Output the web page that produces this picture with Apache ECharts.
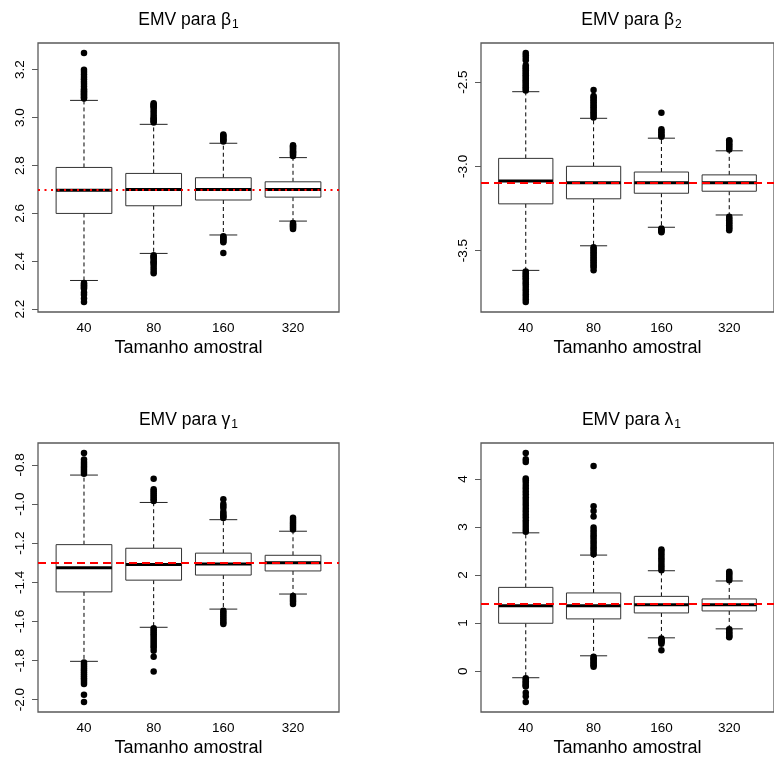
<!DOCTYPE html>
<html>
<head>
<meta charset="utf-8">
<script src="https://cdn.jsdelivr.net/npm/echarts@6/dist/echarts.min.js"></script>
<style>
  html, body { margin: 0; padding: 0; background: #ffffff; }
  #chart { width: 774px; height: 760px; }
</style>
</head>
<body>
<div id="chart"></div>
<script>
// Sample sizes on the horizontal axis of every panel
const sampleSizes = ['40', '80', '160', '320'];
const axisTitle = 'Tamanho amostral';

// Each box: [lower whisker, Q1, median, Q3, upper whisker] for n = 40, 80, 160, 320

// ---- beta_1 ----
const beta1Stats = [
  [2.320, 2.600, 2.697, 2.792, 3.072],
  [2.433, 2.632, 2.700, 2.767, 2.972],
  [2.510, 2.656, 2.700, 2.749, 2.893],
  [2.568, 2.668, 2.700, 2.732, 2.833]
];
const beta1OutHigh = [
  [3.08, 3.085, 3.09, 3.095, 3.10, 3.105, 3.11, 3.115, 3.12, 3.13, 3.14, 3.15, 3.16, 3.17, 3.18, 3.19, 3.20, 3.27],
  [2.98, 2.985, 2.99, 2.995, 3.00, 3.01, 3.02, 3.03, 3.04, 3.045, 3.05, 3.055, 3.06],
  [2.90, 2.905, 2.91, 2.915, 2.92, 2.925, 2.93],
  [2.84, 2.845, 2.85, 2.855, 2.86, 2.865, 2.87, 2.875, 2.88, 2.885]
];
const beta1OutLow = [
  [2.31, 2.305, 2.30, 2.295, 2.29, 2.285, 2.27, 2.26, 2.245, 2.23],
  [2.425, 2.42, 2.415, 2.41, 2.40, 2.395, 2.39, 2.38, 2.37, 2.36, 2.35],
  [2.505, 2.50, 2.495, 2.49, 2.485, 2.48, 2.435],
  [2.56, 2.555, 2.55, 2.545, 2.54, 2.535]
];
const beta1True = 2.7;
const beta1Ticks = [2.2, 2.4, 2.6, 2.8, 3.0, 3.2];

// ---- beta_2 ----
const beta2Stats = [
  [-3.618, -3.223, -3.087, -2.953, -2.557],
  [-3.472, -3.193, -3.097, -3.000, -2.715],
  [-3.362, -3.160, -3.097, -3.034, -2.833],
  [-3.289, -3.148, -3.097, -3.051, -2.908]
];
const beta2OutHigh = [
  [-2.55, -2.54, -2.53, -2.52, -2.51, -2.50, -2.49, -2.48, -2.47, -2.46, -2.45, -2.44, -2.43, -2.42, -2.41, -2.40, -2.37, -2.355, -2.34, -2.327],
  [-2.71, -2.70, -2.69, -2.68, -2.67, -2.66, -2.65, -2.64, -2.63, -2.62, -2.61, -2.60, -2.59, -2.583, -2.547],
  [-2.825, -2.82, -2.81, -2.80, -2.79, -2.78, -2.682],
  [-2.90, -2.89, -2.88, -2.87, -2.86, -2.85, -2.845]
];
const beta2OutLow = [
  [-3.625, -3.635, -3.645, -3.655, -3.665, -3.675, -3.69, -3.70, -3.715, -3.73, -3.745, -3.76, -3.775, -3.79, -3.806],
  [-3.48, -3.49, -3.50, -3.51, -3.52, -3.53, -3.54, -3.55, -3.56, -3.57, -3.58, -3.59, -3.60, -3.617],
  [-3.37, -3.375, -3.38, -3.385, -3.392],
  [-3.30, -3.31, -3.32, -3.33, -3.34, -3.35, -3.36, -3.37, -3.38]
];
const beta2True = -3.1;
const beta2Ticks = [-3.5, -3.0, -2.5];

// ---- gamma_1 ----
const gamma1Stats = [
  [-1.804, -1.449, -1.326, -1.2075, -0.852],
  [-1.630, -1.389, -1.309, -1.226, -0.992],
  [-1.537, -1.363, -1.306, -1.251, -1.080],
  [-1.460, -1.342, -1.300, -1.262, -1.139]
];
const gamma1OutHigh = [
  [-0.845, -0.835, -0.825, -0.815, -0.805, -0.795, -0.785, -0.772, -0.739],
  [-0.985, -0.975, -0.965, -0.955, -0.945, -0.935, -0.925, -0.871],
  [-1.072, -1.065, -1.058, -1.05, -1.04, -1.02, -1.01, -1.00, -0.975],
  [-1.13, -1.12, -1.11, -1.10, -1.09, -1.08, -1.07]
];
const gamma1OutLow = [
  [-1.81, -1.82, -1.83, -1.84, -1.85, -1.86, -1.87, -1.88, -1.89, -1.90, -1.91, -1.92, -1.975, -2.012],
  [-1.635, -1.645, -1.655, -1.665, -1.675, -1.685, -1.695, -1.705, -1.715, -1.725, -1.735, -1.75, -1.781, -1.856],
  [-1.545, -1.555, -1.565, -1.575, -1.585, -1.595, -1.605, -1.613],
  [-1.47, -1.48, -1.49, -1.50, -1.511]
];
const gamma1True = -1.3;
const gamma1Ticks = [-2.0, -1.8, -1.6, -1.4, -1.2, -1.0, -0.8];

// ---- lambda_1 ----
const lambda1Stats = [
  [-0.137, 0.996, 1.363, 1.743, 2.878],
  [0.319, 1.087, 1.363, 1.627, 2.415],
  [0.693, 1.211, 1.384, 1.556, 2.089],
  [0.880, 1.253, 1.384, 1.502, 1.876]
];
const lambda1OutHigh = [
  [2.90, 2.96, 3.02, 3.08, 3.14, 3.20, 3.26, 3.32, 3.38, 3.44, 3.50, 3.56, 3.62, 3.68, 3.74, 3.80, 3.86, 3.92, 3.97, 4.01, 4.35, 4.41, 4.54],
  [2.43, 2.48, 2.53, 2.58, 2.63, 2.68, 2.73, 2.78, 2.83, 2.88, 2.93, 2.99, 3.22, 3.33, 3.43, 4.27],
  [2.10, 2.15, 2.20, 2.25, 2.30, 2.35, 2.40, 2.45, 2.50, 2.53],
  [1.89, 1.93, 1.97, 2.01, 2.04, 2.07]
];
const lambda1OutLow = [
  [-0.15, -0.18, -0.21, -0.24, -0.27, -0.30, -0.32, -0.45, -0.52, -0.643],
  [0.30, 0.27, 0.24, 0.21, 0.18, 0.15, 0.12, 0.09],
  [0.68, 0.66, 0.64, 0.62, 0.60, 0.57, 0.436],
  [0.87, 0.84, 0.81, 0.78, 0.75, 0.72, 0.705]
];
const lambda1True = 1.4;
const lambda1Ticks = [0, 1, 2, 3, 4];

// Panel definitions (title symbol, data, reference-line style, plot rectangle)
const panels = [
  { sym: 'β', sub: '1', stats: beta1Stats, hi: beta1OutHigh, lo: beta1OutLow, truth: beta1True,
    ticks: beta1Ticks, dec: 1, refDash: [2, 4.5], rect: { left: 38, top: 43 } },
  { sym: 'β', sub: '2', stats: beta2Stats, hi: beta2OutHigh, lo: beta2OutLow, truth: beta2True,
    ticks: beta2Ticks, dec: 1, refDash: [8, 5], rect: { left: 481, top: 43 } },
  { sym: 'γ', sub: '1', stats: gamma1Stats, hi: gamma1OutHigh, lo: gamma1OutLow, truth: gamma1True,
    ticks: gamma1Ticks, dec: 1, refDash: [8, 5], rect: { left: 38, top: 443 } },
  { sym: 'λ', sub: '1', stats: lambda1Stats, hi: lambda1OutHigh, lo: lambda1OutLow, truth: lambda1True,
    ticks: lambda1Ticks, dec: 0, refDash: [8, 5], rect: { left: 481, top: 443 } }
];

const PLOT_W = 301, PLOT_H = 269;
const FONT = '"Liberation Sans", Arial, Helvetica, sans-serif';

// Box with dashed whiskers, short caps and a thick median bar
function renderBox(params, api) {
  const x = api.value(0);
  const lo = api.value(1), q1 = api.value(2), md = api.value(3), q3 = api.value(4), hi = api.value(5);
  const half = api.size([0.4, 0])[0];
  const capHalf = api.size([0.2, 0])[0];
  const cx = api.coord([x, md])[0];
  const yLo = api.coord([x, lo])[1];
  const yQ1 = api.coord([x, q1])[1];
  const yMd = api.coord([x, md])[1];
  const yQ3 = api.coord([x, q3])[1];
  const yHi = api.coord([x, hi])[1];
  const whisk = { stroke: '#000', lineWidth: 1, lineDash: [4, 3] };
  const cap = { stroke: '#222', lineWidth: 1 };
  return {
    type: 'group',
    children: [
      { type: 'line', shape: { x1: cx, y1: yQ3, x2: cx, y2: yHi }, style: whisk },
      { type: 'line', shape: { x1: cx, y1: yQ1, x2: cx, y2: yLo }, style: whisk },
      { type: 'line', shape: { x1: cx - capHalf, y1: yHi, x2: cx + capHalf, y2: yHi }, style: cap },
      { type: 'line', shape: { x1: cx - capHalf, y1: yLo, x2: cx + capHalf, y2: yLo }, style: cap },
      { type: 'rect', shape: { x: cx - half, y: yQ3, width: 2 * half, height: yQ1 - yQ3 },
        style: { fill: '#ffffff', stroke: '#333', lineWidth: 1 } },
      { type: 'line', shape: { x1: cx - half, y1: yMd, x2: cx + half, y2: yMd },
        style: { stroke: '#000', lineWidth: 3 } }
    ]
  };
}

const grid = [], xAxis = [], yAxis = [], series = [], graphic = [];

panels.forEach((p, i) => {
  // y range: data extent widened by 4% on each side
  const all = [];
  p.stats.forEach(s => all.push(s[0], s[4]));
  p.hi.forEach(a => all.push(...a));
  p.lo.forEach(a => all.push(...a));
  const dMin = Math.min(...all), dMax = Math.max(...all);
  const pad = (dMax - dMin) * 0.04;

  grid.push({
    left: p.rect.left, top: p.rect.top, width: PLOT_W, height: PLOT_H,
    show: true, borderColor: '#5a5a5a', borderWidth: 1.3, backgroundColor: 'transparent'
  });

  xAxis.push({
    type: 'value', gridIndex: i, min: -0.66, max: 3.66, position: 'bottom',
    axisLine: { show: false, onZero: false }, axisTick: { show: false }, splitLine: { show: false },
    axisLabel: {
      customValues: [0, 1, 2, 3], formatter: v => sampleSizes[Math.round(v)] || '',
      color: '#000', fontSize: 13.5, fontFamily: FONT, margin: 9
    },
    name: axisTitle, nameLocation: 'middle', nameGap: 27,
    nameTextStyle: { color: '#000', fontSize: 18, fontFamily: FONT }
  });

  yAxis.push({
    type: 'value', gridIndex: i, min: dMin - pad, max: dMax + pad, position: 'left',
    axisLine: { show: false, onZero: false }, splitLine: { show: false },
    axisTick: { show: true, customValues: p.ticks, length: 6, lineStyle: { color: '#5a5a5a', width: 1 } },
    axisLabel: {
      customValues: p.ticks, rotate: 90, formatter: v => Number(v).toFixed(p.dec),
      color: '#000', fontSize: 13.5, fontFamily: FONT, margin: 11
    }
  });

  series.push({
    type: 'custom', xAxisIndex: i, yAxisIndex: i, z: 2, clip: true,
    renderItem: renderBox,
    encode: { x: 0, y: [1, 2, 3, 4, 5] },
    data: p.stats.map((s, k) => [k, ...s])
  });

  const pts = [];
  p.hi.forEach((a, k) => a.forEach(v => pts.push([k, v])));
  p.lo.forEach((a, k) => a.forEach(v => pts.push([k, v])));
  series.push({
    type: 'scatter', xAxisIndex: i, yAxisIndex: i, z: 3,
    symbol: 'circle', symbolSize: 6.5, itemStyle: { color: '#000', opacity: 1 },
    data: pts,
    markLine: {
      silent: true, symbol: ['none', 'none'], label: { show: false },
      lineStyle: { color: '#ff0000', width: 2, type: p.refDash, opacity: 1 },
      emphasis: { disabled: true },
      data: [{ yAxis: p.truth }]
    }
  });

  graphic.push({
    type: 'text',
    x: p.rect.left + PLOT_W / 2,
    y: p.rect.top - 23,
    style: {
      text: 'EMV para {g|' + p.sym + '}{s|' + p.sub + '}',
      align: 'center', verticalAlign: 'middle',
      fill: '#000', font: '17.5px ' + FONT,
      rich: {
        g: { fontSize: 17.5, fontFamily: FONT, fill: '#000', lineHeight: 22 },
        s: { fontSize: 12, fontFamily: FONT, fill: '#000', lineHeight: 22, padding: [9, 0, 0, 1] }
      }
    }
  });
});

const chart = echarts.init(document.getElementById('chart'), null, { renderer: 'canvas' });
chart.setOption({
  backgroundColor: '#ffffff',
  animation: false,
  grid, xAxis, yAxis, series, graphic
});
</script>
</body>
</html>
